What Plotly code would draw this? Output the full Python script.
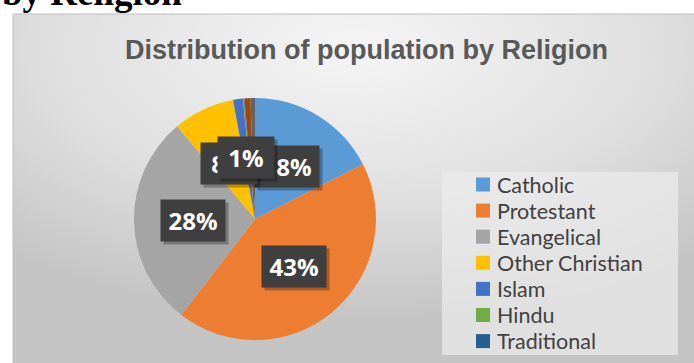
import base64
import math
import plotly.graph_objects as go

W, H = 694, 363

# ---- data ----
religions = ["Catholic", "Protestant", "Evangelical", "Other Christian", "Islam",
             "Hindu", "Traditional", "Other religions", "No religion"]
shares = [17.5, 42.8, 28.4, 8.2, 1.3, 0.1, 0.1, 0.8, 0.6]
colors = ["#5B9BD5", "#ED7D31", "#A5A5A5", "#FFC000", "#4472C4",
          "#70AD47", "#255E91", "#9E480E", "#636363"]
legend_count = 7  # the reference legend box cuts off after "Traditional"
title_text = "Distribution of population by Religion"
header_text = "by Religion"

# ---- pie geometry (pixels) ----
cx, cy, R = 255, 219, 121
dom_x = [(cx - R) / W, (cx + R) / W]
dom_y = [1 - (cy + R) / H, 1 - (cy - R) / H]

fig = go.Figure(go.Pie(
    labels=religions, values=shares, sort=False, direction="clockwise",
    rotation=0, marker=dict(colors=colors, line=dict(width=0)),
    textinfo="none", hoverinfo="label+percent",
    domain=dict(x=dom_x, y=dom_y), showlegend=False,
))

# ---- background gradient of the chart area ----
bx0, by0 = 13, 14
bw, bh = W - bx0, H - by0
svg = (f'<svg xmlns="http://www.w3.org/2000/svg" width="{bw}" height="{bh}" '
       f'viewBox="0 0 {bw} {bh}" preserveAspectRatio="none"><defs>'
       '<radialGradient id="g" cx="0.5" cy="0.1" r="0.78">'
       '<stop offset="0" stop-color="#f5f5f5"/>'
       '<stop offset="0.55" stop-color="#e0e0e0"/>'
       '<stop offset="1" stop-color="#c4c4c4"/>'
       '</radialGradient></defs>'
       f'<rect width="{bw}" height="{bh}" fill="url(#g)"/></svg>')
src = "data:image/svg+xml;base64," + base64.b64encode(svg.encode()).decode()
fig.add_layout_image(dict(source=src, xref="paper", yref="paper",
                          x=bx0 / W, y=1 - by0 / H, sizex=bw / W, sizey=bh / H,
                          xanchor="left", yanchor="top", sizing="stretch",
                          layer="below"))

shapes = []
# chart border
shapes.append(dict(type="rect", xref="paper", yref="paper",
                   x0=bx0 / W, x1=1.01, y0=-0.01, y1=1 - by0 / H,
                   line=dict(color="#bdbdbd", width=1), fillcolor="rgba(0,0,0,0)",
                   layer="below"))
# legend box
shapes.append(dict(type="rect", xref="paper", yref="paper",
                   x0=442 / W, x1=678 / W, y0=1 - 355 / H, y1=1 - 172 / H,
                   line=dict(width=0), fillcolor="rgba(236,236,236,0.7)",
                   layer="below"))

annotations = []
# cropped header text above the chart
annotations.append(dict(text="<b>" + header_text + "</b>", x=0, y=1 - 15 / H,
                        xref="paper", yref="paper", xanchor="left", yanchor="bottom",
                        showarrow=False,
                        font=dict(family="Liberation Serif", size=37, color="#000000")))
# title
annotations.append(dict(text="<b>" + title_text + "</b>", x=367 / W, y=1 - 50 / H,
                        xref="paper", yref="paper", xanchor="center", yanchor="middle",
                        showarrow=False,
                        font=dict(family="Liberation Sans", size=27, color="#595959")))

# data labels (dark boxes)
total = sum(shares)
cum = 0.0
for v in shares:
    mid = (cum + v / 2) / total * 2 * math.pi
    cum += v
    if v / total < 0.01:
        continue
    txt = f"{round(v / total * 100)}%"
    rr = 0.51 * R
    px = cx + rr * math.sin(mid)
    py = cy - rr * math.cos(mid)
    wbox = 60 if len(txt) > 2 else 52
    common = dict(x=px / W, y=1 - py / H, xref="paper", yref="paper",
                  showarrow=False, width=wbox, height=37, borderpad=2,
                  xanchor="center", yanchor="middle")
    annotations.append(dict(text=txt, bgcolor="rgba(0,0,0,0.28)", xshift=3, yshift=-3,
                            font=dict(family="Open Sans", size=24, color="rgba(0,0,0,0)"),
                            **common))
    annotations.append(dict(text="<b>" + txt + "</b>", bgcolor="#3f3f3f",
                            font=dict(family="Open Sans", size=24, color="#ffffff"),
                            **common))

# manual legend
for i in range(legend_count):
    yc = 184.5 + 26.1 * i
    shapes.append(dict(type="rect", xref="paper", yref="paper",
                       x0=476 / W, x1=490 / W, y0=1 - (yc + 7) / H, y1=1 - (yc - 7) / H,
                       line=dict(width=0), fillcolor=colors[i]))
    annotations.append(dict(text=religions[i], x=495 / W, y=1 - yc / H,
                            xref="paper", yref="paper", xanchor="left", yanchor="middle",
                            showarrow=False,
                            font=dict(family="Lato", size=21.5, color="#404040")))

fig.update_layout(width=W, height=H, margin=dict(l=0, r=0, t=0, b=0),
                  paper_bgcolor="#ffffff", plot_bgcolor="#ffffff",
                  shapes=shapes, annotations=annotations, showlegend=False)

fig.write_html("out.html")
